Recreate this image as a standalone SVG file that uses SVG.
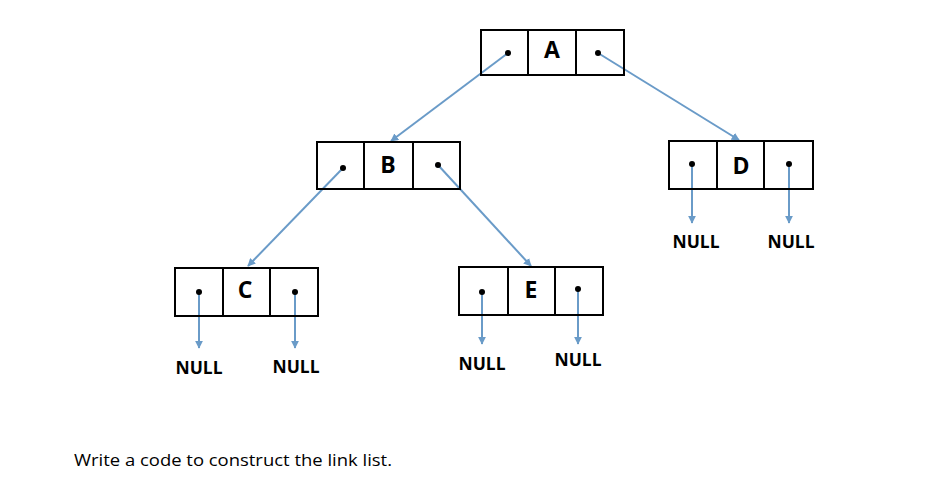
<svg xmlns="http://www.w3.org/2000/svg" width="937" height="492" viewBox="0 0 937 492">
<style>
.cell{fill:none;stroke:#000;stroke-width:2}
.dot{fill:#000}
.lbl{font-family:"Open Sans","Liberation Sans",sans-serif;font-weight:bold;font-size:23px;text-anchor:middle}
.null{font-family:"Open Sans","Liberation Sans",sans-serif;font-weight:bold;font-size:17px;text-anchor:middle}
.link{stroke:#6a9bc8;stroke-width:2;fill:none;marker-end:url(#ah)}
.cap{font-family:"Open Sans","Liberation Sans",sans-serif;font-size:16px}
</style>
<defs>
<marker id="ah" viewBox="0 0 10 10" refX="9" refY="5" markerWidth="4" markerHeight="4" orient="auto" markerUnits="strokeWidth">
<path d="M0,0 L10,5 L0,10 z" fill="#6a9bc8"/>
</marker>
</defs>
<rect width="937" height="492" fill="#fff"/>
<g id="connectors">
<line class="link" x1="508" y1="53" x2="391" y2="141"/>
<line class="link" x1="598" y1="53" x2="739" y2="140"/>
<line class="link" x1="343" y1="168" x2="248" y2="266"/>
<line class="link" x1="438" y1="165" x2="531" y2="266"/>
<line class="link" x1="692" y1="164" x2="692" y2="223"/>
<line class="link" x1="789" y1="164" x2="789" y2="223"/>
<line class="link" x1="199" y1="292" x2="199" y2="348"/>
<line class="link" x1="295" y1="292" x2="295" y2="348"/>
<line class="link" x1="482" y1="292" x2="482" y2="344"/>
<line class="link" x1="578" y1="289" x2="578" y2="344"/>
</g>
<g id="nodeA">
<rect class="cell" x="481" y="30" width="47" height="45"/>
<rect class="cell" x="528" y="30" width="48" height="45"/>
<rect class="cell" x="576" y="30" width="48" height="45"/>
<circle class="dot" cx="508" cy="53" r="3"/>
<circle class="dot" cx="598" cy="53" r="3"/>
<text class="lbl" x="552" y="58">A</text>
</g>
<g id="nodeB">
<rect class="cell" x="317" y="142" width="47" height="47"/>
<rect class="cell" x="364" y="142" width="49" height="47"/>
<rect class="cell" x="413" y="142" width="47" height="47"/>
<circle class="dot" cx="343" cy="168" r="3"/>
<circle class="dot" cx="438" cy="165" r="3"/>
<text class="lbl" x="388" y="173">B</text>
</g>
<g id="nodeD">
<rect class="cell" x="669" y="141" width="48" height="48"/>
<rect class="cell" x="717" y="141" width="47" height="48"/>
<rect class="cell" x="764" y="141" width="49" height="48"/>
<circle class="dot" cx="692" cy="164" r="3"/>
<circle class="dot" cx="789" cy="164" r="3"/>
<text class="lbl" x="741" y="174">D</text>
<text class="null" x="696" y="248" textLength="47" lengthAdjust="spacingAndGlyphs">NULL</text>
<text class="null" x="791" y="248" textLength="47" lengthAdjust="spacingAndGlyphs">NULL</text>
</g>
<g id="nodeC">
<rect class="cell" x="175" y="268" width="48" height="48"/>
<rect class="cell" x="223" y="268" width="47" height="48"/>
<rect class="cell" x="270" y="268" width="48" height="48"/>
<circle class="dot" cx="199" cy="292" r="3"/>
<circle class="dot" cx="295" cy="292" r="3"/>
<text class="lbl" x="245" y="298">C</text>
<text class="null" x="199" y="374" textLength="47" lengthAdjust="spacingAndGlyphs">NULL</text>
<text class="null" x="296" y="373" textLength="47" lengthAdjust="spacingAndGlyphs">NULL</text>
</g>
<g id="nodeE">
<rect class="cell" x="459" y="267" width="49" height="48"/>
<rect class="cell" x="508" y="267" width="47" height="48"/>
<rect class="cell" x="555" y="267" width="48" height="48"/>
<circle class="dot" cx="482" cy="292" r="3"/>
<circle class="dot" cx="578" cy="289" r="3"/>
<text class="lbl" x="531" y="298">E</text>
<text class="null" x="482" y="370" textLength="47" lengthAdjust="spacingAndGlyphs">NULL</text>
<text class="null" x="578" y="366" textLength="47" lengthAdjust="spacingAndGlyphs">NULL</text>
</g>
<text class="cap" x="74" y="466" textLength="318" lengthAdjust="spacingAndGlyphs">Write a code to construct the link list.</text>
</svg>
